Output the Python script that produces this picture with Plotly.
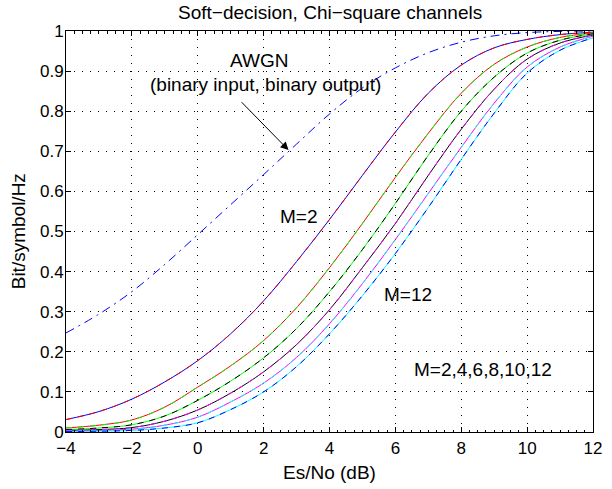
import plotly.graph_objects as go

esno_db = [-4, -3, -2, -1, 0, 1, 2, 3, 4, 5, 6, 7, 8, 9, 10, 11, 12]

awgn = [0.247, 0.294, 0.350, 0.418, 0.492, 0.567, 0.642, 0.718, 0.793, 0.858, 0.908, 0.946, 0.972, 0.988, 0.996, 0.999, 1.0]

cap_m2 = [0.031, 0.051, 0.082, 0.125, 0.178, 0.245, 0.327, 0.425, 0.530, 0.640, 0.748, 0.845, 0.915, 0.958, 0.979, 0.991, 0.997]
cap_m4 = [0.010, 0.017, 0.030, 0.062, 0.112, 0.165, 0.228, 0.310, 0.410, 0.520, 0.635, 0.745, 0.845, 0.917, 0.960, 0.984, 0.995]
cap_m6 = [0.006, 0.010, 0.018, 0.040, 0.079, 0.127, 0.185, 0.258, 0.350, 0.455, 0.570, 0.690, 0.800, 0.885, 0.945, 0.977, 0.993]
cap_m8 = [0.004, 0.006, 0.011, 0.027, 0.055, 0.097, 0.150, 0.218, 0.305, 0.410, 0.520, 0.640, 0.755, 0.855, 0.930, 0.970, 0.990]
cap_m10 = [0.002, 0.004, 0.007, 0.017, 0.037, 0.075, 0.122, 0.186, 0.270, 0.370, 0.480, 0.595, 0.710, 0.820, 0.910, 0.960, 0.987]
cap_m12 = [0.001, 0.002, 0.004, 0.010, 0.023, 0.056, 0.100, 0.163, 0.245, 0.340, 0.445, 0.560, 0.680, 0.795, 0.895, 0.952, 0.983]

series = [cap_m2, cap_m4, cap_m6, cap_m8, cap_m10, cap_m12]
solid_colors = ["#0000FF", "#FF0000", "#00FF00", "#000000", "#FF00FF", "#00FFFF"]
dash_colors = ["#FF0000", "#00FF00", "#000000", "#FF00FF", "#00FFFF", "#0000FF"]

x_ticks = [-4, -2, 0, 2, 4, 6, 8, 10, 12]
y_ticks = [0, 0.1, 0.2, 0.3, 0.4, 0.5, 0.6, 0.7, 0.8, 0.9, 1]

FONT = "Liberation Sans, Arial, Helvetica, sans-serif"
TXT = dict(family=FONT, size=19, color="black")

fig = go.Figure()

fig.add_trace(go.Scatter(x=esno_db, y=awgn, mode="lines",
                         line=dict(color="#0000FF", width=1, dash="9px,5px,2px,5px", shape="spline"),
                         showlegend=False, hoverinfo="skip"))

for ys, c in zip(series, solid_colors):
    fig.add_trace(go.Scatter(x=esno_db, y=ys, mode="lines",
                             line=dict(color=c, width=1, shape="spline"),
                             showlegend=False, hoverinfo="skip"))
for ys, c in zip(series, dash_colors):
    fig.add_trace(go.Scatter(x=esno_db, y=ys, mode="lines",
                             line=dict(color=c, width=1, dash="6px,6px", shape="spline"),
                             showlegend=False, hoverinfo="skip"))

axis_common = dict(
    showline=True, linecolor="black", linewidth=1, mirror="ticks",
    ticks="inside", ticklen=5, tickcolor="black", tickwidth=1,
    showgrid=True, gridcolor="black", gridwidth=1, griddash="1px,7px",
    zeroline=False, tickfont=dict(family=FONT, size=17, color="black"),
    ticklabeloverflow="allow",
)

fig.update_xaxes(range=[-4, 12], tickvals=x_ticks, ticklabelstandoff=1,
                 minor=dict(ticks="inside", dtick=0.25, ticklen=2.5, tickcolor="black", showgrid=False),
                 **axis_common)
fig.update_yaxes(range=[0, 1], tickvals=y_ticks, ticklabelstandoff=-2, **axis_common)

annotations = [
    dict(text="AWGN", x=1.86, y=0.926, xref="x", yref="y", showarrow=False, font=TXT),
    dict(text="(binary input, binary output)", x=2.07, y=0.867, xref="x", yref="y", showarrow=False, font=TXT),
    dict(text="", x=2.755, y=0.703, ax=1.29, ay=0.826, xref="x", yref="y", axref="x", ayref="y",
         showarrow=True, arrowhead=2, arrowsize=1.6, arrowwidth=1, arrowcolor="black"),
    dict(text="M=2", x=3.08, y=0.538, xref="x", yref="y", showarrow=False, font=TXT),
    dict(text="M=12", x=6.37, y=0.344, xref="x", yref="y", showarrow=False, font=TXT),
    dict(text="M=2,4,6,8,10,12", x=8.66, y=0.155, xref="x", yref="y", showarrow=False, font=TXT),
    dict(text="Es/No (dB)", x=0.5, y=-0.1, xref="paper", yref="paper", showarrow=False,
         yanchor="middle", font=TXT),
    dict(text="Bit/symbol/Hz", x=-0.0896, y=0.5, xref="paper", yref="paper", showarrow=False,
         textangle=-90, xanchor="center", yanchor="middle", font=TXT),
    dict(text="Soft\u2212decision, Chi\u2212square channels", x=0.5, y=1.0, xref="paper", yref="paper",
         yshift=19, showarrow=False, yanchor="middle", font=TXT),
]

fig.update_layout(
    width=612, height=489,
    margin=dict(l=66, r=10, t=31, b=57),
    paper_bgcolor="white", plot_bgcolor="white",
    annotations=annotations,
    showlegend=False,
)

fig.write_html("out.html", config={"displayModeBar": False},
               post_script="document.body.style.margin='0px';")
